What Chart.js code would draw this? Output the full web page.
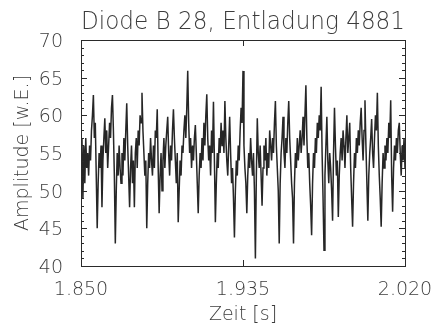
<!DOCTYPE html>
<html>
<head>
<meta charset="utf-8">
<script src="https://cdn.jsdelivr.net/npm/chart.js@4/dist/chart.umd.min.js"></script>
<style>
  html, body { margin: 0; padding: 0; background: #ffffff; }
  #wrap { width: 439px; height: 326px; }
</style>
</head>
<body>
<div id="wrap"><canvas id="c" width="439" height="326"></canvas></div>
<script>
// Photodiode B 28 signal, discharge 4881
const titleText = 'Diode B 28, Entladung 4881';
const xLabel = 'Zeit [s]';
const yLabel = 'Amplitude [w.E.]';

// sampling: start time and step in seconds
const tStart = 1.850;
const tStep = 0.0005;

// amplitude samples [w.E.]
const amplitude = [
  55, 57, 49, 56, 51, 57, 53, 55, 52, 56,
  54, 58, 60, 62.7, 57, 59, 52, 45, 51, 55,
  53, 56, 47.8, 54, 57, 59.6, 55, 58, 53, 56,
  59, 57, 61, 62.7, 58, 52, 43, 50, 55, 52,
  56, 53, 51, 55, 52, 57, 54, 58, 61.6, 56,
  52, 47.8, 53, 56, 51, 54, 47.8, 55, 57, 53,
  58, 56, 60, 59, 63, 58, 55, 52, 54, 45,
  51, 55, 53, 57, 54, 52, 56, 53, 58, 57,
  60.8, 53, 47, 52, 55, 50, 54, 57, 53, 56,
  58, 59.8, 55, 52, 56, 54, 58, 60.8, 57, 54,
  51, 55, 45.8, 50, 54, 52, 56, 55, 58, 60,
  57, 61, 65.9, 59, 55, 57, 53, 56, 54, 57,
  58.7, 55, 51, 47, 52, 55, 53, 57, 54, 59,
  56, 60, 62.8, 57, 54, 56, 52, 58, 55, 61.8,
  54, 45.8, 51, 55, 53, 57, 55, 59, 56, 58,
  55, 61.9, 57, 54, 52, 56, 59.8, 55, 51, 53,
  49, 43.8, 50, 54, 52, 56, 54, 58, 61, 59,
  65.9, 56, 53, 51, 47, 52, 55, 53, 57, 54,
  52, 55, 50, 41, 52, 59.6, 55, 53, 56, 52,
  48, 53, 56, 54, 57, 52, 55, 53, 58, 56,
  54, 57, 55, 59, 61.9, 56, 53, 50, 43, 51,
  55, 57, 59.8, 55, 53, 57, 55, 59, 61.9, 57,
  54, 51, 49, 43, 51, 55, 53, 57, 54, 56,
  58, 55, 57, 59.8, 56, 60, 64, 57, 53, 55,
  51, 48, 44.1, 51, 55, 53, 57, 55, 59, 57,
  60, 58, 63.8, 55, 49, 42.1, 52, 56, 59.8, 54,
  51, 55, 53, 50, 46, 55, 61, 56, 52, 54,
  46.5, 52, 55, 57, 54, 58, 56, 53, 57, 60,
  55, 57, 59, 53, 49, 45.2, 51, 55, 53, 57,
  55, 58, 56, 59, 61, 57, 54, 58, 62, 56,
  51, 46, 52, 55, 57, 59.5, 55, 53, 57, 60,
  58, 63, 56, 52, 49, 45.2, 51, 55, 53, 56,
  54, 57, 55, 59, 57, 62, 52, 47.2, 53, 56,
  54, 57, 55, 58, 59, 55, 52, 56, 54, 57,
  53
];

// axis ticks
const xTicks = [1.850, 1.935, 2.020];
const yMin = 40, yMax = 70, yStep = 5, yMinorStep = 1;

const points = amplitude.map((v, i) => ({ x: tStart + i * tStep, y: v }));

const textColor = '#3c3c3c';
const fontFamily = "'DejaVu Sans', sans-serif";

// frame around the plot box with inward tick marks
const frameTicks = {
  id: 'frameTicks',
  afterDatasetsDraw(chart) {
    const { ctx, chartArea: a, scales } = chart;
    const ys = scales.y, xs = scales.x;
    ctx.save();
    ctx.strokeStyle = '#2a2a2a';
    ctx.lineWidth = 1;
    ctx.strokeRect(Math.round(a.left) + 0.5, Math.round(a.top) + 0.5,
                   Math.round(a.right - a.left), Math.round(a.bottom - a.top));
    ctx.beginPath();
    for (let v = yMin; v <= yMax; v += yMinorStep) {
      const py = Math.round(ys.getPixelForValue(v)) + 0.5;
      const len = (v % yStep === 0) ? 6 : 3;
      ctx.moveTo(a.left, py); ctx.lineTo(a.left + len, py);
      ctx.moveTo(a.right, py); ctx.lineTo(a.right - len, py);
    }
    xTicks.forEach(v => {
      const px = Math.round(xs.getPixelForValue(v)) + 0.5;
      ctx.moveTo(px, a.bottom); ctx.lineTo(px, a.bottom - 6);
      ctx.moveTo(px, a.top); ctx.lineTo(px, a.top + 6);
    });
    ctx.stroke();
    ctx.restore();
  }
};

new Chart(document.getElementById('c'), {
  type: 'line',
  data: {
    datasets: [{
      data: points,
      borderColor: '#262626',
      borderWidth: 1.5,
      pointRadius: 0,
      tension: 0,
      fill: false
    }]
  },
  options: {
    responsive: false,
    animation: false,
    events: [],
    layout: { padding: { left: 0, right: 34, top: 0, bottom: 0 } },
    plugins: {
      legend: { display: false },
      tooltip: { enabled: false },
      title: {
        display: true,
        text: titleText,
        fullSize: false,
        color: textColor,
        font: { family: fontFamily, size: 24, weight: '200', lineHeight: 1.2 },
        padding: { top: 8, bottom: 3.2 }
      }
    },
    scales: {
      x: {
        type: 'linear',
        min: xTicks[0],
        max: xTicks[xTicks.length - 1],
        afterBuildTicks(scale) { scale.ticks = xTicks.map(v => ({ value: v })); },
        afterFit(scale) { scale.height = 60; },
        grid: { display: false },
        border: { display: false },
        ticks: {
          color: textColor,
          font: { family: fontFamily, size: 19, weight: '200' },
          padding: 5,
          maxRotation: 0,
          autoSkip: false,
          callback: v => Number(v).toFixed(3)
        },
        title: {
          display: true,
          text: xLabel,
          color: textColor,
          font: { family: fontFamily, size: 19, weight: '200', lineHeight: 1.2 },
          padding: { top: 0, bottom: 0 }
        }
      },
      y: {
        min: yMin,
        max: yMax,
        afterFit(scale) { scale.width = 81; },
        grid: { display: false },
        border: { display: false },
        ticks: {
          stepSize: yStep,
          color: textColor,
          font: { family: fontFamily, size: 19, weight: '200' },
          padding: 10,
          labelOffset: 2
        },
        title: {
          display: true,
          text: yLabel,
          color: textColor,
          font: { family: fontFamily, size: 19, weight: '200', lineHeight: 1.2 },
          padding: { top: 12, bottom: 0 }
        }
      }
    }
  },
  plugins: [frameTicks]
});
</script>
</body>
</html>
